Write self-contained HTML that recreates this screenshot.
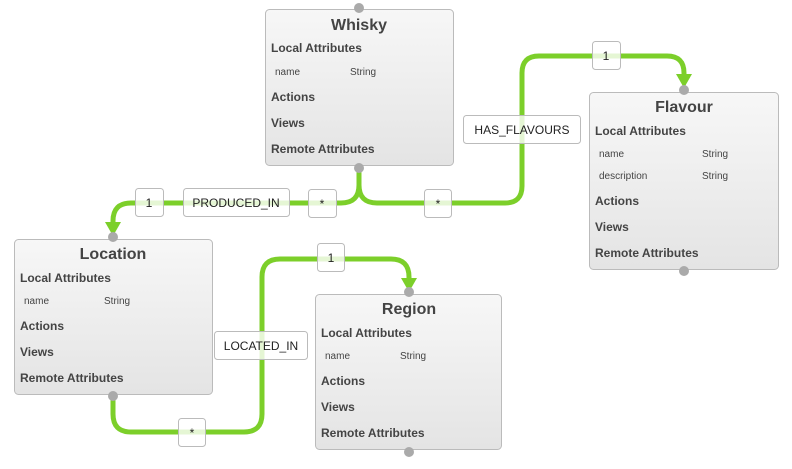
<!DOCTYPE html>
<html><head><meta charset="utf-8"><style>
html,body{margin:0;padding:0;background:#fff;width:792px;height:469px;overflow:hidden}
svg{display:block;font-family:"Liberation Sans",sans-serif}
.t{font-size:16px;font-weight:bold;fill:#444;text-anchor:middle}
.s{font-size:12px;font-weight:bold;fill:#444}
.a{font-size:10px;fill:#444}
.l{font-size:12px;fill:#222;text-anchor:middle}
.c{fill:none;stroke:#7ccf2a;stroke-width:5}
.lb{fill:rgba(255,255,255,0.8);stroke:#bbb;stroke-width:1}
</style></head><body>
<svg width="792" height="469" viewBox="0 0 792 469">
<defs>
<linearGradient id="g" x1="0" y1="0" x2="0" y2="1"><stop offset="0" stop-color="#f7f7f7"/><stop offset="1" stop-color="#e4e4e4"/></linearGradient>
</defs>
<!-- connectors -->
<path class="c" d="M359,170 V185 Q359,203 341,203 H131 Q113,203 113,221 V226"/>
<polygon points="105,222 121,222 113,236" fill="#7ccf2a"/>
<path class="c" d="M359,170 V185 Q359,203 377,203 H505 Q522,203 522,186 V73 Q522,56 539,56 H667 Q684,56 684,73 V78"/>
<polygon points="676,74 692,74 684,88" fill="#7ccf2a"/>
<path class="c" d="M113,396 V414 Q113,432 131,432 H244 Q262,432 262,414 V277 Q262,259 280,259 H391 Q409,259 409,277 V282"/>
<polygon points="401,278 417,278 409,292" fill="#7ccf2a"/>
<!-- boxes -->
<g>
<rect x="265.5" y="9.5" width="188" height="156" rx="4" fill="url(#g)" stroke="#bbb"/>
<circle cx="359" cy="8" r="5" fill="#aaa"/><circle cx="359" cy="168" r="5" fill="#aaa"/>
<text class="t" x="359" y="30">Whisky</text>
<text class="s" x="271" y="52">Local Attributes</text>
<text class="a" x="275" y="75">name</text><text class="a" x="350" y="75">String</text>
<text class="s" x="271" y="101">Actions</text>
<text class="s" x="271" y="127">Views</text>
<text class="s" x="271" y="153">Remote Attributes</text>
</g>
<g>
<rect x="589.5" y="92.5" width="189" height="177" rx="4" fill="url(#g)" stroke="#bbb"/>
<circle cx="684" cy="90" r="5" fill="#aaa"/><circle cx="684" cy="271" r="5" fill="#aaa"/>
<text class="t" x="684" y="112">Flavour</text>
<text class="s" x="595" y="135">Local Attributes</text>
<text class="a" x="599" y="157">name</text><text class="a" x="702" y="157">String</text>
<text class="a" x="599" y="179">description</text><text class="a" x="702" y="179">String</text>
<text class="s" x="595" y="205">Actions</text>
<text class="s" x="595" y="231">Views</text>
<text class="s" x="595" y="257">Remote Attributes</text>
</g>
<g>
<rect x="14.5" y="239.5" width="198" height="155" rx="4" fill="url(#g)" stroke="#bbb"/>
<circle cx="113" cy="237" r="5" fill="#aaa"/><circle cx="113" cy="396" r="5" fill="#aaa"/>
<text class="t" x="113" y="259">Location</text>
<text class="s" x="20" y="282">Local Attributes</text>
<text class="a" x="24" y="304">name</text><text class="a" x="104" y="304">String</text>
<text class="s" x="20" y="330">Actions</text>
<text class="s" x="20" y="356">Views</text>
<text class="s" x="20" y="382">Remote Attributes</text>
</g>
<g>
<rect x="315.5" y="294.5" width="186" height="155" rx="4" fill="url(#g)" stroke="#bbb"/>
<circle cx="409" cy="292" r="5" fill="#aaa"/><circle cx="409" cy="452" r="5" fill="#aaa"/>
<text class="t" x="409" y="314">Region</text>
<text class="s" x="321" y="337">Local Attributes</text>
<text class="a" x="325" y="359">name</text><text class="a" x="400" y="359">String</text>
<text class="s" x="321" y="385">Actions</text>
<text class="s" x="321" y="411">Views</text>
<text class="s" x="321" y="437">Remote Attributes</text>
</g>
<!-- labels -->
<rect class="lb" x="135.5" y="188.5" width="28" height="28" rx="3"/><text class="l" x="149" y="207">1</text>
<rect class="lb" x="183.5" y="188.5" width="106" height="28" rx="3"/><text class="l" x="236" y="207">PRODUCED_IN</text>
<rect class="lb" x="308.5" y="189.5" width="28" height="28" rx="3"/><text class="l" x="322" y="208">*</text>
<rect class="lb" x="424.5" y="189.5" width="27" height="28" rx="3"/><text class="l" x="438" y="208">*</text>
<rect class="lb" x="463.5" y="115.5" width="117" height="28" rx="3"/><text class="l" x="522" y="134">HAS_FLAVOURS</text>
<rect class="lb" x="592.5" y="41.5" width="28" height="28" rx="3"/><text class="l" x="606" y="60">1</text>
<rect class="lb" x="214.5" y="331.5" width="93" height="28" rx="3"/><text class="l" x="261" y="350">LOCATED_IN</text>
<rect class="lb" x="317.5" y="243.5" width="27" height="28" rx="3"/><text class="l" x="331" y="262">1</text>
<rect class="lb" x="178.5" y="418.5" width="27" height="28" rx="3"/><text class="l" x="192" y="437">*</text>
</svg>
</body></html>
